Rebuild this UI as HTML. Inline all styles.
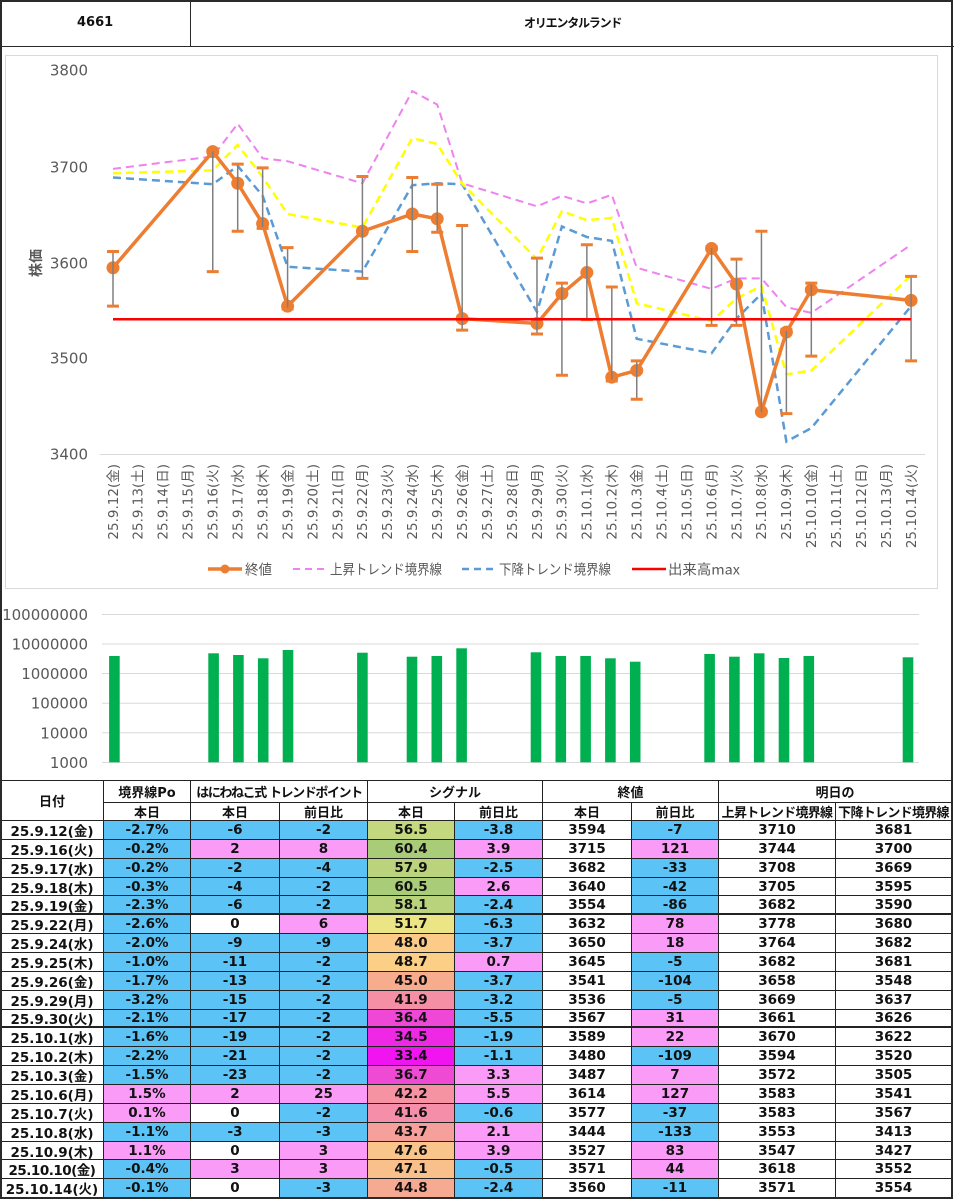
<!DOCTYPE html>
<html lang="ja">
<head>
<meta charset="utf-8">
<style>
html,body{margin:0;padding:0;background:#fff;}
body{width:954px;height:1200px;position:relative;overflow:hidden;}
.frame{position:absolute;left:0;top:0;width:953px;height:1199px;border:2px solid #2a2a2a;box-sizing:border-box;pointer-events:none;z-index:5;}
.hline{position:absolute;background:#2a2a2a;}
.htxt{position:absolute;font:bold 13px "DejaVu Sans","Noto Sans CJK JP",sans-serif;color:#111;white-space:nowrap;}
.tbl{position:absolute;left:0;top:780px;width:952px;display:grid;
 grid-template-columns:103px 87px 89px 88px 87px 88px 89px 87px 117px 116px;
 grid-template-rows:22px 18px repeat(20,18.86px);
 border-left:1px solid #222;border-top:1px solid #222;box-sizing:border-box;}
.c{border-right:1px solid #222;border-bottom:1px solid #222;box-sizing:border-box;display:flex;align-items:center;justify-content:center;
 font:bold 13.5px "DejaVu Sans","Noto Sans CJK JP",sans-serif;color:#111;white-space:nowrap;overflow:hidden;background:#fff;}
.h{font:bold 13px "DejaVu Sans","Noto Sans CJK JP",sans-serif;}
.b{background:#5BC3F5;}
.p{background:#FA9CF7;}
.t{border-bottom-width:2px;}
</style>
</head>
<body>
<div class="frame"></div>
<!-- header -->
<div class="hline" style="left:190px;top:0;width:1px;height:47px;"></div>
<div class="hline" style="left:0;top:46px;width:954px;height:1px;"></div>
<div class="htxt" style="left:77px;top:15px;">4661</div>
<div class="htxt" style="left:524px;top:14px;font-size:12px;letter-spacing:-1.2px;font-family:'Noto Sans CJK JP',sans-serif;">オリエンタルランド</div>

<svg width="954" height="780" style="position:absolute;left:0;top:0" xmlns="http://www.w3.org/2000/svg">
<rect x="5.5" y="55.5" width="932" height="533" fill="#fff" stroke="#D9D9D9"/>
<g font-family="DejaVu Sans, Noto Sans CJK JP, sans-serif" font-size="15" fill="#595959" text-anchor="end">
<text x="88" y="75.5">3800</text>
<text x="88" y="172.5">3700</text>
<text x="88" y="268.5">3600</text>
<text x="88" y="363.5">3500</text>
<text x="88" y="459.5">3400</text>
</g>
<text transform="translate(41,263) rotate(-90)" text-anchor="middle" font-family="Noto Sans CJK JP, sans-serif" font-weight="bold" font-size="14" fill="#595959">株価</text>
<line x1="100" y1="454.5" x2="925" y2="454.5" stroke="#D9D9D9" stroke-width="1"/>

<!-- x labels -->
<g font-family="DejaVu Sans, Noto Sans CJK JP, sans-serif" font-size="13.5" fill="#595959" text-anchor="end">
<text transform="translate(117.8,464) rotate(-90)">25.9.12(金)</text>
<text transform="translate(142.74,464) rotate(-90)">25.9.13(土)</text>
<text transform="translate(167.68,464) rotate(-90)">25.9.14(日)</text>
<text transform="translate(192.62,464) rotate(-90)">25.9.15(月)</text>
<text transform="translate(217.56,464) rotate(-90)">25.9.16(火)</text>
<text transform="translate(242.5,464) rotate(-90)">25.9.17(水)</text>
<text transform="translate(267.44,464) rotate(-90)">25.9.18(木)</text>
<text transform="translate(292.38,464) rotate(-90)">25.9.19(金)</text>
<text transform="translate(317.32,464) rotate(-90)">25.9.20(土)</text>
<text transform="translate(342.26,464) rotate(-90)">25.9.21(日)</text>
<text transform="translate(367.2,464) rotate(-90)">25.9.22(月)</text>
<text transform="translate(392.14,464) rotate(-90)">25.9.23(火)</text>
<text transform="translate(417.08,464) rotate(-90)">25.9.24(水)</text>
<text transform="translate(442.02,464) rotate(-90)">25.9.25(木)</text>
<text transform="translate(466.96,464) rotate(-90)">25.9.26(金)</text>
<text transform="translate(491.9,464) rotate(-90)">25.9.27(土)</text>
<text transform="translate(516.84,464) rotate(-90)">25.9.28(日)</text>
<text transform="translate(541.78,464) rotate(-90)">25.9.29(月)</text>
<text transform="translate(566.72,464) rotate(-90)">25.9.30(火)</text>
<text transform="translate(591.66,464) rotate(-90)">25.10.1(水)</text>
<text transform="translate(616.6,464) rotate(-90)">25.10.2(木)</text>
<text transform="translate(641.54,464) rotate(-90)">25.10.3(金)</text>
<text transform="translate(666.48,464) rotate(-90)">25.10.4(土)</text>
<text transform="translate(691.42,464) rotate(-90)">25.10.5(日)</text>
<text transform="translate(716.36,464) rotate(-90)">25.10.6(月)</text>
<text transform="translate(741.3,464) rotate(-90)">25.10.7(火)</text>
<text transform="translate(766.24,464) rotate(-90)">25.10.8(水)</text>
<text transform="translate(791.18,464) rotate(-90)">25.10.9(木)</text>
<text transform="translate(816.12,464) rotate(-90)">25.10.10(金)</text>
<text transform="translate(841.06,464) rotate(-90)">25.10.11(土)</text>
<text transform="translate(866,464) rotate(-90)">25.10.12(日)</text>
<text transform="translate(890.94,464) rotate(-90)">25.10.13(月)</text>
<text transform="translate(915.88,464) rotate(-90)">25.10.14(火)</text>
</g>

<!-- dashed trend lines -->
<polyline fill="none" stroke="#EE82EE" stroke-width="2" stroke-dasharray="8 5" points="113,168.88 212.76,156.4 237.7,123.76 262.64,158.32 287.58,161.2 362.4,183.28 412.28,91.12 437.22,104.56 462.16,183.28 536.98,206.32 561.92,195.76 586.86,203.44 611.8,194.8 636.74,267.76 711.56,288.88 736.5,278.32 761.44,278.32 786.38,307.12 811.32,312.88 911.08,244.72"/>
<polyline fill="none" stroke="#5B9BD5" stroke-width="2.5" stroke-dasharray="8 5" points="113,177.52 212.76,184.24 237.7,166 262.64,195.76 287.58,266.8 362.4,271.6 412.28,185.2 437.22,183.28 462.16,184.24 536.98,311.92 561.92,226.48 586.86,237.04 611.8,240.88 636.74,338.8 711.56,353.2 736.5,318.64 761.44,293.68 786.38,441.52 811.32,428.08 911.08,306.16"/>
<polyline fill="none" stroke="#FFFF00" stroke-width="2.5" stroke-dasharray="8 5" points="113,173.2 212.76,170.32 237.7,144.88 262.64,177.04 287.58,214 362.4,227.44 412.28,138.16 437.22,143.92 462.16,183.76 536.98,259.12 561.92,211.12 586.86,220.24 611.8,217.84 636.74,303.28 711.56,321.04 736.5,298.48 761.44,286 786.38,374.32 811.32,370.48 911.08,275.44"/>

<!-- close line -->
<polyline fill="none" stroke="#ED7D31" stroke-width="3.5" stroke-linejoin="round" points="113,267.76 212.76,151.6 237.7,183.28 262.64,223.6 287.58,306.16 362.4,231.28 412.28,214 437.22,218.8 462.16,318.64 536.98,323.44 561.92,293.68 586.86,272.56 611.8,377.2 636.74,370.48 711.56,248.56 736.5,284.08 761.44,411.76 786.38,332.08 811.32,289.84 911.08,300.4"/>
<g fill="#ED7D31">
<circle cx="113" cy="267.76" r="6.5"/><circle cx="212.76" cy="151.6" r="6.5"/><circle cx="237.7" cy="183.28" r="6.5"/><circle cx="262.64" cy="223.6" r="6.5"/><circle cx="287.58" cy="306.16" r="6.5"/><circle cx="362.4" cy="231.28" r="6.5"/><circle cx="412.28" cy="214" r="6.5"/><circle cx="437.22" cy="218.8" r="6.5"/><circle cx="462.16" cy="318.64" r="6.5"/><circle cx="536.98" cy="323.44" r="6.5"/><circle cx="561.92" cy="293.68" r="6.5"/><circle cx="586.86" cy="272.56" r="6.5"/><circle cx="611.8" cy="377.2" r="6.5"/><circle cx="636.74" cy="370.48" r="6.5"/><circle cx="711.56" cy="248.56" r="6.5"/><circle cx="736.5" cy="284.08" r="6.5"/><circle cx="761.44" cy="411.76" r="6.5"/><circle cx="786.38" cy="332.08" r="6.5"/><circle cx="811.32" cy="289.84" r="6.5"/><circle cx="911.08" cy="300.4" r="6.5"/>
</g>

<!-- error bars -->
<g stroke="#7F7F7F" stroke-width="1.5">
<line x1="113" y1="251.44" x2="113" y2="306.16"/>
<line x1="212.76" y1="149.7" x2="212.76" y2="271.6"/>
<line x1="237.7" y1="164.08" x2="237.7" y2="231.28"/>
<line x1="262.64" y1="167.92" x2="262.64" y2="228.4"/>
<line x1="287.58" y1="247.6" x2="287.58" y2="309.04"/>
<line x1="362.4" y1="176.56" x2="362.4" y2="278.32"/>
<line x1="412.28" y1="177.52" x2="412.28" y2="251.44"/>
<line x1="437.22" y1="184.24" x2="437.22" y2="232.24"/>
<line x1="462.16" y1="225.52" x2="462.16" y2="330.16"/>
<line x1="536.98" y1="258.16" x2="536.98" y2="334"/>
<line x1="561.92" y1="283.12" x2="561.92" y2="375.28"/>
<line x1="586.86" y1="244.72" x2="586.86" y2="319.6"/>
<line x1="611.8" y1="286.96" x2="611.8" y2="381.04"/>
<line x1="636.74" y1="360.88" x2="636.74" y2="399.28"/>
<line x1="711.56" y1="246.64" x2="711.56" y2="325.36"/>
<line x1="736.5" y1="259.12" x2="736.5" y2="325.36"/>
<line x1="761.44" y1="231.28" x2="761.44" y2="413.68"/>
<line x1="786.38" y1="329.2" x2="786.38" y2="413.68"/>
<line x1="811.32" y1="283.12" x2="811.32" y2="356.08"/>
<line x1="911.08" y1="276.4" x2="911.08" y2="360.88"/>
</g>
<g stroke="#ED7D31" stroke-width="3">
<path d="M107,251.44h12M107,306.16h12M206.76,149.7h12M206.76,271.6h12M231.7,164.08h12M231.7,231.28h12M256.64,167.92h12M256.64,228.4h12M281.58,247.6h12M281.58,309.04h12M356.4,176.56h12M356.4,278.32h12M406.28,177.52h12M406.28,251.44h12M431.22,184.24h12M431.22,232.24h12M456.16,225.52h12M456.16,330.16h12M530.98,258.16h12M530.98,334h12M555.92,283.12h12M555.92,375.28h12M580.86,244.72h12M580.86,319.6h12M605.8,286.96h12M605.8,381.04h12M630.74,360.88h12M630.74,399.28h12M705.56,246.64h12M705.56,325.36h12M730.5,259.12h12M730.5,325.36h12M755.44,231.28h12M755.44,413.68h12M780.38,329.2h12M780.38,413.68h12M805.32,283.12h12M805.32,356.08h12M905.08,276.4h12M905.08,360.88h12"/>
</g>

<!-- red max line -->
<line x1="113" y1="319.2" x2="911" y2="319.2" stroke="#FF0000" stroke-width="2.5"/>

<!-- legend -->
<g font-family="Noto Sans CJK JP, DejaVu Sans, sans-serif" font-size="14" fill="#595959">
<line x1="208" y1="569" x2="242" y2="569" stroke="#ED7D31" stroke-width="3.5"/>
<circle cx="225" cy="569" r="4.5" fill="#ED7D31"/>
<text x="245" y="574.5" textLength="27" lengthAdjust="spacingAndGlyphs">終値</text>
<line x1="293" y1="569" x2="325" y2="569" stroke="#EE82EE" stroke-width="2" stroke-dasharray="7 5"/>
<text x="330" y="574.5" textLength="112" lengthAdjust="spacingAndGlyphs">上昇トレンド境界線</text>
<line x1="462" y1="569" x2="495" y2="569" stroke="#5B9BD5" stroke-width="2.5" stroke-dasharray="7 5"/>
<text x="499" y="574.5" textLength="112" lengthAdjust="spacingAndGlyphs">下降トレンド境界線</text>
<line x1="632" y1="569" x2="666" y2="569" stroke="#FF0000" stroke-width="2.5"/>
<text x="668" y="574.5" textLength="72" lengthAdjust="spacingAndGlyphs">出来高max</text>
</g>

<!-- volume chart -->
<g stroke="#D9D9D9" stroke-width="1">
<line x1="102" y1="614.5" x2="919" y2="614.5"/>
<line x1="102" y1="644" x2="919" y2="644"/>
<line x1="102" y1="673.5" x2="919" y2="673.5"/>
<line x1="102" y1="703.2" x2="919" y2="703.2"/>
<line x1="102" y1="732.8" x2="919" y2="732.8"/>
<line x1="102" y1="762.5" x2="919" y2="762.5"/>
</g>
<g font-family="DejaVu Sans, sans-serif" font-size="15" fill="#595959" text-anchor="end">
<text x="88" y="620">100000000</text>
<text x="88" y="649.5">10000000</text>
<text x="88" y="679">1000000</text>
<text x="88" y="708.7">100000</text>
<text x="88" y="738.3">10000</text>
<text x="88" y="768">1000</text>
</g>
<g fill="#00B050">
<rect x="109.1" y="656" width="10.6" height="106.3"/>
<rect x="208.3" y="653.3" width="10.6" height="109"/>
<rect x="233.1" y="655" width="10.6" height="107.3"/>
<rect x="257.9" y="658.3" width="10.6" height="104"/>
<rect x="282.7" y="650" width="10.6" height="112.3"/>
<rect x="357.1" y="652.7" width="10.6" height="109.6"/>
<rect x="406.7" y="656.7" width="10.6" height="105.6"/>
<rect x="431.5" y="656" width="10.6" height="106.3"/>
<rect x="456.3" y="648.3" width="10.6" height="114"/>
<rect x="530.7" y="652.3" width="10.6" height="110"/>
<rect x="555.5" y="656" width="10.6" height="106.3"/>
<rect x="580.3" y="656" width="10.6" height="106.3"/>
<rect x="605.1" y="658.3" width="10.6" height="104"/>
<rect x="629.9" y="661.7" width="10.6" height="100.6"/>
<rect x="704.3" y="654" width="10.6" height="108.3"/>
<rect x="729.1" y="656.7" width="10.6" height="105.6"/>
<rect x="753.9" y="653.3" width="10.6" height="109"/>
<rect x="778.7" y="658" width="10.6" height="104.3"/>
<rect x="803.5" y="656" width="10.6" height="106.3"/>
<rect x="902.7" y="657.3" width="10.6" height="105"/>
</g>
</svg>

<!-- table -->
<div class="tbl">
<div class="c h" style="grid-row:1 / span 2;">日付</div>
<div class="c h">境界線Po</div>
<div class="c h" style="grid-column:span 2;letter-spacing:-1.4px;">はにわねこ式 トレンドポイント</div>
<div class="c h" style="grid-column:span 2;">シグナル</div>
<div class="c h" style="grid-column:span 2;">終値</div>
<div class="c h" style="grid-column:span 2;">明日の</div>
<div class="c h">本日</div>
<div class="c h">本日</div>
<div class="c h">前日比</div>
<div class="c h">本日</div>
<div class="c h">前日比</div>
<div class="c h">本日</div>
<div class="c h">前日比</div>
<div class="c h" style="letter-spacing:-0.7px;">上昇トレンド境界線</div>
<div class="c h" style="letter-spacing:-0.7px;">下降トレンド境界線</div>

<div class="c">25.9.12(金)</div><div class="c b">-2.7%</div><div class="c b">-6</div><div class="c b">-2</div><div class="c" style="background:#C4D87F">56.5</div><div class="c b">-3.8</div><div class="c">3594</div><div class="c b">-7</div><div class="c">3710</div><div class="c">3681</div>
<div class="c">25.9.16(火)</div><div class="c b">-0.2%</div><div class="c p">2</div><div class="c p">8</div><div class="c" style="background:#A9CC78">60.4</div><div class="c p">3.9</div><div class="c">3715</div><div class="c p">121</div><div class="c">3744</div><div class="c">3700</div>
<div class="c">25.9.17(水)</div><div class="c b">-0.2%</div><div class="c b">-2</div><div class="c b">-4</div><div class="c" style="background:#BAD37C">57.9</div><div class="c b">-2.5</div><div class="c">3682</div><div class="c b">-33</div><div class="c">3708</div><div class="c">3669</div>
<div class="c">25.9.18(木)</div><div class="c b">-0.3%</div><div class="c b">-4</div><div class="c b">-2</div><div class="c" style="background:#A9CC78">60.5</div><div class="c p">2.6</div><div class="c">3640</div><div class="c b">-42</div><div class="c">3705</div><div class="c">3595</div>
<div class="c t">25.9.19(金)</div><div class="c b t">-2.3%</div><div class="c b t">-6</div><div class="c b t">-2</div><div class="c t" style="background:#B9D37C">58.1</div><div class="c b t">-2.4</div><div class="c t">3554</div><div class="c b t">-86</div><div class="c t">3682</div><div class="c t">3590</div>
<div class="c">25.9.22(月)</div><div class="c b">-2.6%</div><div class="c">0</div><div class="c p">6</div><div class="c" style="background:#ECE585">51.7</div><div class="c b">-6.3</div><div class="c">3632</div><div class="c p">78</div><div class="c">3778</div><div class="c">3680</div>
<div class="c">25.9.24(水)</div><div class="c b">-2.0%</div><div class="c b">-9</div><div class="c b">-9</div><div class="c" style="background:#FBCB87">48.0</div><div class="c b">-3.7</div><div class="c">3650</div><div class="c p">18</div><div class="c">3764</div><div class="c">3682</div>
<div class="c">25.9.25(木)</div><div class="c b">-1.0%</div><div class="c b">-11</div><div class="c b">-2</div><div class="c" style="background:#FBD086">48.7</div><div class="c p">0.7</div><div class="c">3645</div><div class="c b">-5</div><div class="c">3682</div><div class="c">3681</div>
<div class="c">25.9.26(金)</div><div class="c b">-1.7%</div><div class="c b">-13</div><div class="c b">-2</div><div class="c" style="background:#F8AC8E">45.0</div><div class="c b">-3.7</div><div class="c">3541</div><div class="c b">-104</div><div class="c">3658</div><div class="c">3548</div>
<div class="c">25.9.29(月)</div><div class="c b">-3.2%</div><div class="c b">-15</div><div class="c b">-2</div><div class="c" style="background:#F58FA6">41.9</div><div class="c b">-3.2</div><div class="c">3536</div><div class="c b">-5</div><div class="c">3669</div><div class="c">3637</div>
<div class="c t">25.9.30(火)</div><div class="c b t">-2.1%</div><div class="c b t">-17</div><div class="c b t">-2</div><div class="c t" style="background:#EF48D6">36.4</div><div class="c b t">-5.5</div><div class="c t">3567</div><div class="c p t">31</div><div class="c t">3661</div><div class="c t">3626</div>
<div class="c">25.10.1(水)</div><div class="c b">-1.6%</div><div class="c b">-19</div><div class="c b">-2</div><div class="c" style="background:#EF28E6">34.5</div><div class="c b">-1.9</div><div class="c">3589</div><div class="c p">22</div><div class="c">3670</div><div class="c">3622</div>
<div class="c">25.10.2(木)</div><div class="c b">-2.2%</div><div class="c b">-21</div><div class="c b">-2</div><div class="c" style="background:#F014F0">33.4</div><div class="c b">-1.1</div><div class="c">3480</div><div class="c b">-109</div><div class="c">3594</div><div class="c">3520</div>
<div class="c">25.10.3(金)</div><div class="c b">-1.5%</div><div class="c b">-23</div><div class="c b">-2</div><div class="c" style="background:#EF4AD4">36.7</div><div class="c p">3.3</div><div class="c">3487</div><div class="c p">7</div><div class="c">3572</div><div class="c">3505</div>
<div class="c">25.10.6(月)</div><div class="c p">1.5%</div><div class="c p">2</div><div class="c p">25</div><div class="c" style="background:#F593A3">42.2</div><div class="c p">5.5</div><div class="c">3614</div><div class="c p">127</div><div class="c">3583</div><div class="c">3541</div>
<div class="c">25.10.7(火)</div><div class="c p">0.1%</div><div class="c">0</div><div class="c b">-2</div><div class="c" style="background:#F58EA8">41.6</div><div class="c b">-0.6</div><div class="c">3577</div><div class="c b">-37</div><div class="c">3583</div><div class="c">3567</div>
<div class="c">25.10.8(水)</div><div class="c b">-1.1%</div><div class="c b">-3</div><div class="c b">-3</div><div class="c" style="background:#F6A09B">43.7</div><div class="c p">2.1</div><div class="c">3444</div><div class="c b">-133</div><div class="c">3553</div><div class="c">3413</div>
<div class="c">25.10.9(木)</div><div class="c p">1.1%</div><div class="c">0</div><div class="c p">3</div><div class="c" style="background:#FAC58A">47.6</div><div class="c p">3.9</div><div class="c">3527</div><div class="c p">83</div><div class="c">3547</div><div class="c">3427</div>
<div class="c" style="letter-spacing:-0.5px;">25.10.10(金)</div><div class="c b">-0.4%</div><div class="c p">3</div><div class="c p">3</div><div class="c" style="background:#FAC08B">47.1</div><div class="c b">-0.5</div><div class="c">3571</div><div class="c p">44</div><div class="c">3618</div><div class="c">3552</div>
<div class="c">25.10.14(火)</div><div class="c b">-0.1%</div><div class="c">0</div><div class="c b">-3</div><div class="c" style="background:#F7AA92">44.8</div><div class="c b">-2.4</div><div class="c">3560</div><div class="c b">-11</div><div class="c">3571</div><div class="c">3554</div>
</div>
</body>
</html>
